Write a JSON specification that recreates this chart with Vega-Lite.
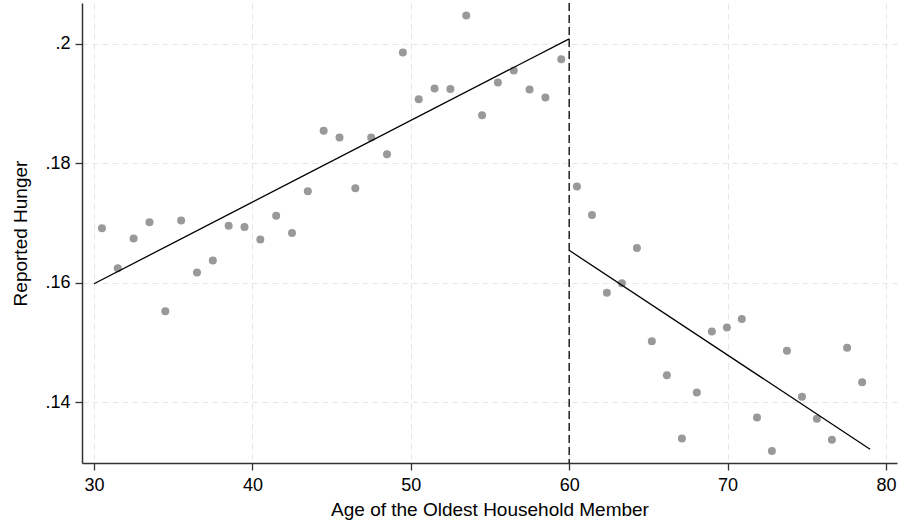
{
  "$schema": "https://vega.github.io/schema/vega-lite/v6.json",
  "width": 815,
  "height": 460,
  "autosize": "none",
  "padding": {"left": 82, "top": 3, "right": 4, "bottom": 66},
  "background": "white",
  "config": {
    "view": {"stroke": null},
    "font": "Liberation Sans",
    "axis": {
      "labelFont": "Liberation Sans",
      "titleFont": "Liberation Sans",
      "labelFontSize": 18,
      "titleFontSize": 19,
      "titleFontWeight": "normal",
      "labelColor": "#000000",
      "titleColor": "#000000",
      "domainColor": "#333333",
      "domainWidth": 1.5,
      "tickColor": "#333333",
      "tickWidth": 1.3,
      "tickSize": 7,
      "gridColor": "#e6e6e6",
      "gridDash": [6, 4],
      "gridWidth": 1
    }
  },
  "datasets": {
    "pts": [
      {"age": 30.5, "hunger": 0.1691},
      {"age": 31.5, "hunger": 0.1624},
      {"age": 32.5, "hunger": 0.1674},
      {"age": 33.5, "hunger": 0.1701},
      {"age": 34.5, "hunger": 0.1552},
      {"age": 35.5, "hunger": 0.1704},
      {"age": 36.5, "hunger": 0.1617},
      {"age": 37.5, "hunger": 0.1637},
      {"age": 38.5, "hunger": 0.1695},
      {"age": 39.5, "hunger": 0.1693},
      {"age": 40.5, "hunger": 0.1672},
      {"age": 41.5, "hunger": 0.1712},
      {"age": 42.5, "hunger": 0.1683},
      {"age": 43.5, "hunger": 0.1753},
      {"age": 44.5, "hunger": 0.1854},
      {"age": 45.5, "hunger": 0.1843},
      {"age": 46.5, "hunger": 0.1758},
      {"age": 47.5, "hunger": 0.1843},
      {"age": 48.5, "hunger": 0.1815},
      {"age": 49.5, "hunger": 0.1985},
      {"age": 50.5, "hunger": 0.1907},
      {"age": 51.5, "hunger": 0.1925},
      {"age": 52.5, "hunger": 0.1924},
      {"age": 53.5, "hunger": 0.2047},
      {"age": 54.5, "hunger": 0.188},
      {"age": 55.5, "hunger": 0.1935},
      {"age": 56.5, "hunger": 0.1955},
      {"age": 57.5, "hunger": 0.1923},
      {"age": 58.5, "hunger": 0.191},
      {"age": 59.5, "hunger": 0.1974},
      {"age": 60.49, "hunger": 0.1761},
      {"age": 61.44, "hunger": 0.1713},
      {"age": 62.38, "hunger": 0.1583},
      {"age": 63.33, "hunger": 0.1599},
      {"age": 64.28, "hunger": 0.1658},
      {"age": 65.22, "hunger": 0.1502},
      {"age": 66.17, "hunger": 0.1445},
      {"age": 67.12, "hunger": 0.1339},
      {"age": 68.06, "hunger": 0.1416},
      {"age": 69.01, "hunger": 0.1518},
      {"age": 69.96, "hunger": 0.1525},
      {"age": 70.9, "hunger": 0.1539},
      {"age": 71.86, "hunger": 0.1374},
      {"age": 72.8, "hunger": 0.1318},
      {"age": 73.75, "hunger": 0.1486},
      {"age": 74.7, "hunger": 0.1409},
      {"age": 75.64, "hunger": 0.1372},
      {"age": 76.59, "hunger": 0.1337},
      {"age": 77.55, "hunger": 0.1491},
      {"age": 78.5, "hunger": 0.1433}
    ],
    "fit": [
      {"seg": "below", "age": 30.0, "hunger": 0.1598},
      {"seg": "below", "age": 60.0, "hunger": 0.2008},
      {"seg": "above", "age": 60.0, "hunger": 0.1654},
      {"seg": "above", "age": 79.0, "hunger": 0.1321}
    ],
    "cut": [{"age": 60}]
  },
  "layer": [
    {
      "data": {"name": "pts"},
      "mark": {"type": "point", "filled": true, "color": "#999999", "opacity": 1, "size": 64},
      "encoding": {
        "x": {
          "field": "age",
          "type": "quantitative",
          "scale": {"domain": [29.24, 80.7], "nice": false, "zero": false},
          "axis": {
            "values": [30, 40, 50, 60, 70, 80],
            "title": "Age of the Oldest Household Member",
            "labelPadding": 6,
            "titlePadding": 6
          }
        },
        "y": {
          "field": "hunger",
          "type": "quantitative",
          "scale": {"domain": [0.1298, 0.2068], "nice": false, "zero": false},
          "axis": {
            "values": [0.14, 0.16, 0.18, 0.2],
            "labelExpr": "replace(format(datum.value, '~g'), '0.', '.')",
            "title": "Reported Hunger",
            "labelPadding": 5,
            "titlePadding": 14
          }
        }
      }
    },
    {
      "data": {"name": "fit"},
      "mark": {"type": "line", "color": "#000000", "strokeWidth": 1.3},
      "encoding": {
        "x": {"field": "age", "type": "quantitative"},
        "y": {"field": "hunger", "type": "quantitative"},
        "detail": {"field": "seg"}
      }
    },
    {
      "data": {"name": "cut"},
      "mark": {"type": "rule", "color": "#000000", "strokeWidth": 1.3, "strokeDash": [8, 4]},
      "encoding": {
        "x": {"field": "age", "type": "quantitative"}
      }
    }
  ]
}
